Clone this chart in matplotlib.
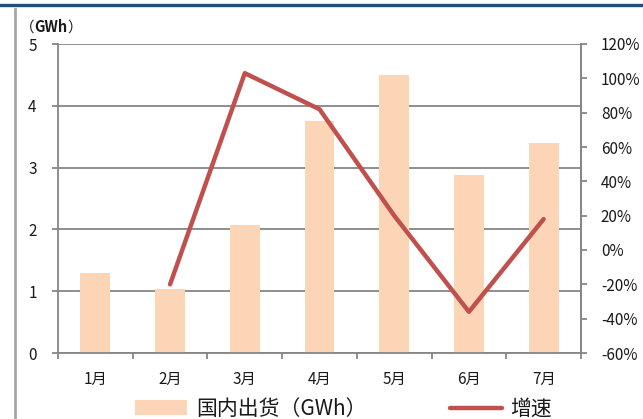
import matplotlib
matplotlib.use("Agg")
import matplotlib.pyplot as plt
from matplotlib.lines import Line2D
from matplotlib.patches import Patch
from matplotlib.ticker import FuncFormatter, FixedLocator
from matplotlib.offsetbox import TextArea, HPacker, AnchoredOffsetbox

plt.rcParams['font.family'] = ['Noto Sans CJK SC', 'DejaVu Sans']

# data
months = ["1月", "2月", "3月", "4月", "5月", "6月", "7月"]
shipments = [1.30, 1.04, 2.07, 3.75, 4.50, 2.88, 3.40]        # GWh
growth_months = ["2月", "3月", "4月", "5月", "6月", "7月"]
growth = [-20, 103, 82, 20, -36, 18]                           # %

BAR_COLOR = "#FBD5B5"
LINE_COLOR = "#C0504D"
GRID_COLOR = "#868686"
TEXT_COLOR = "#1a1a1a"

fig = plt.figure(figsize=(6.43, 4.19), dpi=100)
ax = fig.add_axes([58 / 643, 1 - 353 / 419, (581 - 58) / 643, (353 - 44) / 419])

xs = list(range(len(months)))
ax.bar(xs, shipments, width=0.4, color=BAR_COLOR, zorder=2)
ax.set_xlim(-0.5, len(months) - 0.5)
ax.set_ylim(0, 5)
ax.set_yticks([0, 1, 2, 3, 4, 5])
ax.yaxis.grid(True, color=GRID_COLOR, linewidth=1.3, zorder=0)
ax.set_axisbelow(True)

ax.set_xticks(xs)
ax.set_xticklabels(months, fontsize=11, color=TEXT_COLOR)
ax.tick_params(axis="x", length=0, pad=13)
# category boundary ticks
ax.xaxis.set_minor_locator(FixedLocator([i - 0.5 for i in range(len(months) + 1)]))
ax.tick_params(axis="x", which="minor", length=4.3, width=1.3, color=GRID_COLOR, direction="out")
ax.tick_params(axis="y", length=4.3, width=1.3, color=GRID_COLOR, direction="out",
               labelsize=11, labelcolor=TEXT_COLOR, pad=11)

ax.spines["top"].set_visible(False)
for s in ("left", "right", "bottom"):
    ax.spines[s].set_color(GRID_COLOR)
    ax.spines[s].set_linewidth(1.3)

ax2 = ax.twinx()
gx = [months.index(m) for m in growth_months]
ax2.plot(gx, growth, color=LINE_COLOR, linewidth=3.2, solid_capstyle="round",
         solid_joinstyle="round", zorder=3)
ax2.set_ylim(-60, 120)
ax2.set_yticks(range(-60, 121, 20))
ax2.yaxis.set_major_formatter(FuncFormatter(lambda v, p: f"{v:.0f}%"))
ax2.tick_params(axis="y", length=4.3, width=1.3, color=GRID_COLOR, direction="out",
                labelsize=11, labelcolor=TEXT_COLOR, pad=10)
for s in ("top", "left", "bottom"):
    ax2.spines[s].set_visible(False)
ax2.spines["right"].set_color(GRID_COLOR)
ax2.spines["right"].set_linewidth(1.3)

# unit label: full-width parens in regular weight, unit in bold
unit_props = dict(fontsize=10.5, color=TEXT_COLOR)
unit_box = HPacker(children=[
    TextArea("（", textprops=unit_props),
    TextArea("GWh", textprops=dict(**unit_props, fontweight="bold")),
    TextArea("）", textprops=unit_props),
], sep=0, pad=0, align="baseline")
fig.add_artist(AnchoredOffsetbox(loc="center left", child=unit_box, pad=0, borderpad=0,
                                 frameon=False, bbox_to_anchor=(20 / 643, 1 - 27 / 419),
                                 bbox_transform=fig.transFigure))

# frame decorations
fig.add_artist(Line2D([0, 1], [1 - 5 / 419, 1 - 5 / 419], color="#1F4E79", linewidth=2.4))
fig.add_artist(Line2D([15 / 643, 15 / 643], [0, 1 - 9 / 419], color="#A6A6A6", linewidth=2))

handles = [Patch(facecolor=BAR_COLOR, edgecolor="none"),
           Line2D([], [], color=LINE_COLOR, linewidth=3.2, solid_capstyle="round")]
fig.legend(handles, ["国内出货（GWh）", "增速"], loc="center",
           bbox_to_anchor=(343.5 / 643, 1 - 409 / 419), ncol=2, frameon=False,
           fontsize=15, handlelength=2.5, handletextpad=0.4, columnspacing=4.0,
           borderpad=0, labelcolor=TEXT_COLOR)

fig.savefig("out.png", dpi=100)
